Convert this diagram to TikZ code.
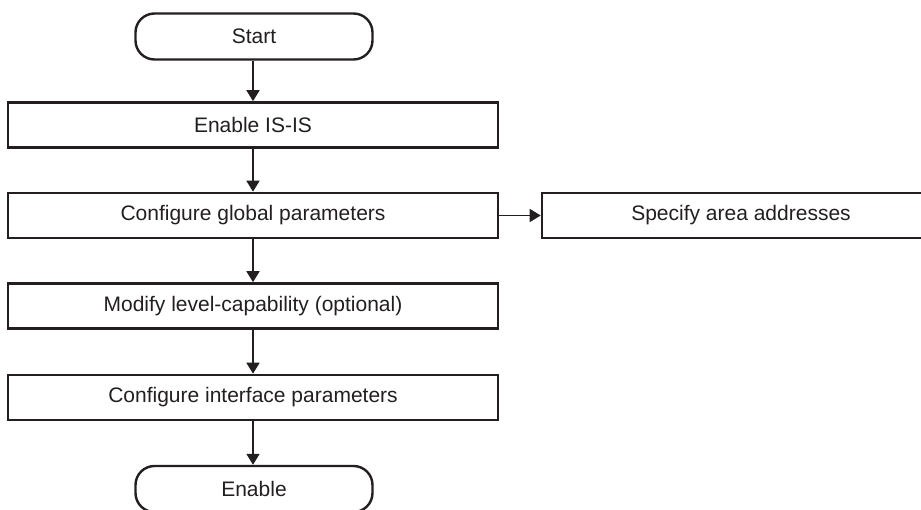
\documentclass[tikz,border=0pt]{standalone}
\usepackage{fontspec}
\setmainfont{Liberation Sans}
\usetikzlibrary{arrows.meta}
\definecolor{ink}{HTML}{231F20}
\begin{document}
\begin{tikzpicture}[x=1pt,y=-1pt,
  box/.style={draw=ink, line width=2.6pt, minimum width=490pt, minimum height=45pt, inner sep=0pt, font=\fontsize{21}{24}\selectfont, text=ink},
  term/.style={draw=ink, line width=2.4pt, rounded corners=19pt, minimum width=237pt, minimum height=46pt, inner sep=0pt, font=\fontsize{21}{24}\selectfont, text=ink},
  arr/.style={draw=ink, line width=1.7pt, -{Triangle[length=11pt,width=13pt]}}]
\useasboundingbox (0,0) rectangle (921,510);
\clip (0,0) rectangle (921,510);
\node[term] (start) at (254,36.5) {Start};
\node[box] (isis) at (253,125) {Enable IS-IS};
\node[box] (glob) at (253,215.5) {Configure global parameters};
\node[box, minimum width=398pt] (area) at (741,215.5) {Specify area addresses};
\node[box] (mod) at (253,306) {Modify level-capability (optional)};
\node[box] (intf) at (253,397.5) {Configure interface parameters};
\node[term] (stop) at (254,489) {Enable};
\draw[arr] (start.south -| isis.north) -- (isis.north);
\draw[arr] (isis) -- (glob);
\draw[arr] (glob) -- (area);
\draw[arr] (glob) -- (mod);
\draw[arr] (mod) -- (intf);
\draw[arr] (intf.south) -- (intf.south |- stop.north);
\end{tikzpicture}
\end{document}
